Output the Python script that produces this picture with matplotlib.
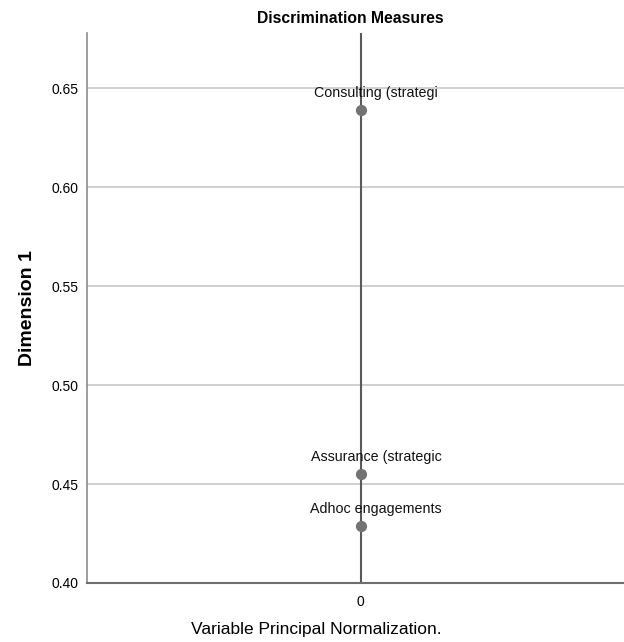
import matplotlib.pyplot as plt

# discrimination measures, dimension 1
variables = ["Consulting (strategi", "Assurance (strategic", "Adhoc engagements"]
dim1 = [0.639, 0.455, 0.429]
xvals = [0, 0, 0]
yticks = [0.40, 0.45, 0.50, 0.55, 0.60, 0.65]

plt.rcParams['font.family'] = ['Liberation Sans', 'DejaVu Sans']

fig = plt.figure(figsize=(6.24, 6.42), dpi=100)
ax = fig.add_axes([87 / 624, 59 / 642, 537 / 624, 550 / 642])

ax.set_xlim(-1.04, 1.0)
ax.set_ylim(0.40, 0.678)

for y in yticks[1:]:
    ax.axhline(y, color='#c8c8c8', lw=1.2, zorder=1)
ax.axvline(0, color='#5a5a5a', lw=1.5, zorder=2)

ax.scatter(xvals, dim1, s=50, color='#737373', zorder=3)
for x, y, name in zip(xvals, dim1, variables):
    ax.annotate(name, (x, y), xytext=(11, 7), textcoords='offset points',
                ha='center', va='bottom', fontsize=10.3, color='#111111')

ax.set_yticks(yticks)
ax.set_yticklabels(["%.2f" % t for t in yticks], fontsize=10)
ax.set_xticks([0])
ax.set_xticklabels(["0"], fontsize=10)
ax.tick_params(axis='y', length=0, pad=6)
ax.tick_params(axis='x', length=0, pad=9)

for side in ['top', 'right']:
    ax.spines[side].set_visible(False)
ax.spines['left'].set_color('#8c8c8c')
ax.spines['bottom'].set_color('#6e6e6e')
ax.spines['left'].set_linewidth(1.2)
ax.spines['bottom'].set_linewidth(1.5)

ax.set_title("Discrimination Measures", fontsize=11.3, fontweight='bold', pad=7,
             x=(350 - 87) / 537)
ax.set_ylabel("Dimension 1", fontsize=14, fontweight='bold', labelpad=11)
ax.set_xlabel("Variable Principal Normalization.", fontsize=12.5, labelpad=9)
ax.xaxis.label.set_x((316 - 87) / 537)

fig.savefig("out.png", dpi=100)
